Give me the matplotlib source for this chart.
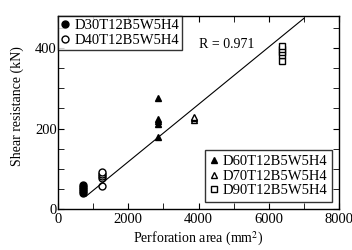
import matplotlib
matplotlib.use("Agg")
import matplotlib.pyplot as plt
from matplotlib.ticker import MultipleLocator

plt.rcParams['font.family'] = ['Liberation Serif', 'DejaVu Serif']
plt.rcParams['mathtext.fontset'] = 'stix'

# data
x_d30 = [700, 700, 700, 700, 700]
y_d30 = [40, 45, 50, 55, 60]
x_d40 = [1250, 1250, 1250, 1250, 1250]
y_d40 = [58, 77, 82, 87, 91]
x_d60 = [2850, 2850, 2850, 2850, 2850]
y_d60 = [178, 212, 218, 224, 277]
x_d70 = [3860, 3860, 3860]
y_d70 = [221, 226, 230]
x_d90 = [6370, 6370, 6370, 6370, 6370]
y_d90 = [368, 382, 390, 398, 406]

fit_x = [800, 7000]
fit_slope = 0.0713
fit_icpt = -25.0
r_text = "R = 0.971"

fig = plt.figure(figsize=(3.52, 2.5), dpi=100)
ax = fig.add_axes([0.165, 0.164, 0.798, 0.772])

ms = 5
h1, = ax.plot(x_d30, y_d30, 'o', color='black', ms=ms, ls='none', label='D30T12B5W5H4')
h2, = ax.plot(x_d40, y_d40, 'o', mfc='white', mec='black', mew=1, ms=ms, ls='none', label='D40T12B5W5H4')
h3, = ax.plot(x_d60, y_d60, '^', color='black', ms=ms, ls='none', label='D60T12B5W5H4')
h4, = ax.plot(x_d70, y_d70, '^', mfc='white', mec='black', mew=1, ms=ms, ls='none', label='D70T12B5W5H4')
h5, = ax.plot(x_d90, y_d90, 's', mfc='white', mec='black', mew=1, ms=ms, ls='none', label='D90T12B5W5H4')

fit_y = [fit_slope * v + fit_icpt for v in fit_x]
ax.plot(fit_x, fit_y, color='black', lw=0.8)

ax.text(4000, 410, r_text, fontsize=10, va='center')

ax.set_xlim(0, 8000)
ax.set_ylim(0, 480)
ax.xaxis.set_major_locator(MultipleLocator(2000))
ax.xaxis.set_minor_locator(MultipleLocator(1000))
ax.yaxis.set_major_locator(MultipleLocator(200))
ax.yaxis.set_minor_locator(MultipleLocator(50))
ax.tick_params(which='both', direction='in', top=True, right=True, labelsize=10.5)
ax.tick_params(axis='x', pad=3)
ax.tick_params(axis='y', pad=1)
ax.tick_params(which='major', length=4)
ax.tick_params(which='minor', length=4)
for s in ax.spines.values():
    s.set_linewidth(1)

ax.set_xlabel('Perforation area (mm$^2$)', fontsize=10, labelpad=3)
ax.set_ylabel('Shear resistance (kN)', fontsize=10)
ax.yaxis.set_label_coords(-0.12, 0.534)

leg1 = ax.legend(handles=[h1, h2], loc='upper left', fontsize=10.5, frameon=True, fancybox=False,
                 edgecolor='black', handlelength=0.6, handletextpad=0.3, borderpad=0.2,
                 labelspacing=0.1, borderaxespad=0.0)
leg1.get_frame().set_linewidth(1)
ax.add_artist(leg1)
leg2 = ax.legend(handles=[h3, h4, h5], loc='lower right', fontsize=10.5, frameon=True, fancybox=False,
                 edgecolor='black', handlelength=0.6, handletextpad=0.3, borderpad=0.3,
                 labelspacing=0.1, borderaxespad=0.5)
leg2.get_frame().set_linewidth(1)

fig.savefig('out.png', dpi=100)
